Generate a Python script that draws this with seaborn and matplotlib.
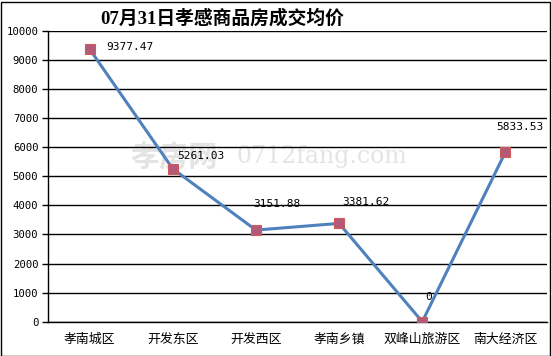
import matplotlib
matplotlib.use("Agg")
import matplotlib.pyplot as plt
import seaborn as sns
import pandas as pd
from matplotlib.patches import Rectangle

categories = ["孝南城区", "开发东区", "开发西区", "孝南乡镇", "双峰山旅游区", "南大经济区"]
values = [9377.47, 5261.03, 3151.88, 3381.62, 0, 5833.53]
value_labels = ["9377.47", "5261.03", "3151.88", "3381.62", "0", "5833.53"]
yticks = list(range(0, 10001, 1000))
title = "07月31日孝感商品房成交均价"

# label offsets in pixels (style only)
label_offsets = [(17, 2), (5, 13), (-3, 26), (3, 21), (3, 25), (-9, 25)]

sns.set_theme(style="white")
plt.rcParams['font.family'] = ['DejaVu Sans', 'Noto Sans CJK SC']

df = pd.DataFrame({"区域": categories, "均价": values})

fig = plt.figure(figsize=(5.51, 3.56), dpi=100)
ax = fig.add_axes([48/551, 1-321.7/356, (547-48)/551, (321.7-31)/356])

# watermark (behind everything)
fig.text(130/551, 1-157/356, "孝房网", fontsize=21, color="#e4e4e4", family=['Noto Sans CJK SC'],
         fontweight='bold', va='center', ha='left', zorder=-5)
fig.text(236/551, 1-157/356, "0712fang.com", fontsize=17, color="#e4e4e4", family=['DejaVu Serif'],
         va='center', ha='left', zorder=-5)

ax.set_facecolor("none")
sns.lineplot(data=df, x="区域", y="均价", sort=False, ax=ax, color="#4F81BD", linewidth=2.2,
             marker="s", markersize=7.5, markerfacecolor="#B25A78", markeredgecolor="#D05A5A",
             markeredgewidth=0.8, zorder=3)

ax.set_xlim(-0.5, len(categories)-0.5)
ax.set_ylim(0, 10000)
ax.set_yticks(yticks)
ax.set_yticklabels([str(t) for t in yticks], family=['DejaVu Sans Mono'], fontsize=7.7, color="black")
ax.set_xticks(range(len(categories)))
ax.set_xticklabels(categories, family=['Noto Sans CJK SC'], fontsize=9.3, color="black")
ax.set_xticks([i - 0.5 for i in range(len(categories)+1)], minor=True)
ax.tick_params(axis='x', which='major', length=0, pad=8)
ax.tick_params(axis='x', which='minor', length=4, width=1, color='black', direction='out')
ax.tick_params(axis='y', which='major', length=4, width=1, color='black', direction='out', pad=3, left=True)
ax.grid(axis='y', color='black', linewidth=1.0)
ax.set_axisbelow(True)
ax.set_xlabel("")
ax.set_ylabel("")
for s in ['top', 'right']:
    ax.spines[s].set_visible(False)
for s in ['left', 'bottom']:
    ax.spines[s].set_color('black')
    ax.spines[s].set_linewidth(1.0)

for i, (v, lab) in enumerate(zip(values, value_labels)):
    dx, dy = label_offsets[i]
    ax.annotate(lab, (i, v), xytext=(dx, dy), textcoords='offset pixels', ha='left', va='center',
                family=['DejaVu Sans Mono'], fontsize=8, color='black', zorder=4)

fig.text(222/551, 1-18/356, title, fontsize=13.5, fontweight='bold', ha='center', va='center',
         family=['Liberation Serif', 'Noto Sans CJK SC'], color='black')

fig.patches.append(Rectangle((0.5/551, 0.5/356), 549.5/551, 354/356, transform=fig.transFigure,
                             fill=False, edgecolor='black', linewidth=1.0))

fig.savefig("out.png", dpi=100)
